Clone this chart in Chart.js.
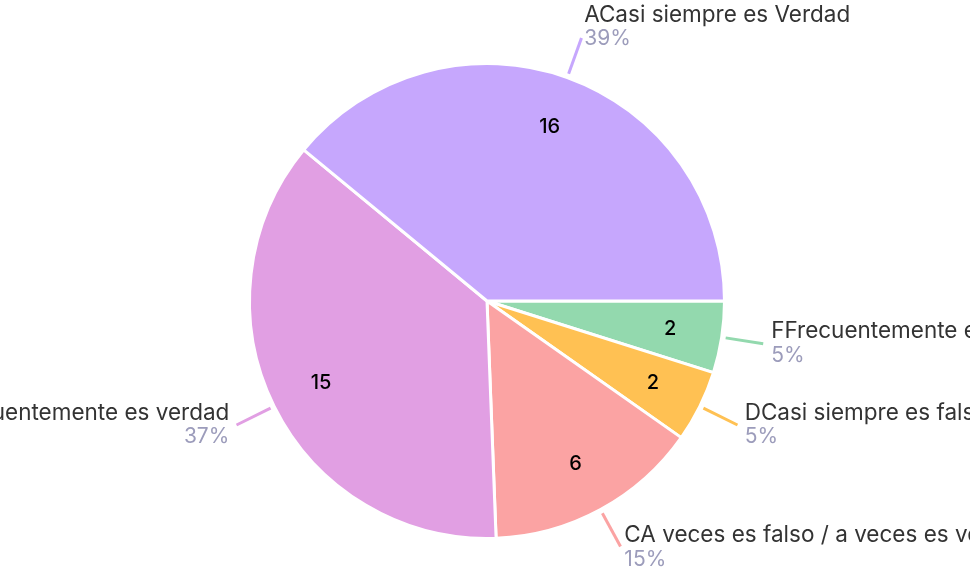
<!DOCTYPE html>
<html>
<head>
<meta charset="utf-8">
<script src="https://cdn.jsdelivr.net/npm/chart.js@4/dist/chart.umd.min.js"></script>
<style>
  html, body { margin: 0; padding: 0; background: #fff; }
  #wrap { width: 970px; height: 577px; }
</style>
</head>
<body>
<div id="wrap"><canvas id="respuestasChart"></canvas></div>
<script>
// Respuestas, en el orden en que se dibujan (desde las 3 en punto, sentido horario)
var etiquetas = [
    'FFrecuentemente es falso',
    'DCasi siempre es falso',
    'CA veces es falso / a veces es verdad',
    'BFrecuentemente es verdad',
    'ACasi siempre es Verdad'
];
var cantidades = [2, 2, 6, 15, 16];
var colores = ['#93d9ae', '#ffc153', '#fba3a3', '#e19fe3', '#c6a7fd'];

var fuente = 'Inter, "Open Sans", sans-serif';

// Líneas guía, nombres y porcentajes alrededor del pastel, y cantidades dentro
var etiquetasPastel = {
    id: 'etiquetasPastel',
    afterDatasetsDraw: function (chart) {
        var ctx = chart.ctx;
        var meta = chart.getDatasetMeta(0);
        var datos = chart.data.datasets[0].data;
        var total = datos.reduce(function (a, b) { return a + b; }, 0);

        meta.data.forEach(function (arco, i) {
            var p = arco.getProps(['x', 'y', 'startAngle', 'endAngle', 'outerRadius'], true);
            var medio = (p.startAngle + p.endAngle) / 2;
            var cos = Math.cos(medio), sin = Math.sin(medio);
            var r = p.outerRadius;

            // cantidad dentro de la porción
            ctx.save();
            ctx.fillStyle = '#000';
            ctx.font = '500 20px ' + fuente;
            ctx.textAlign = 'center';
            ctx.textBaseline = 'middle';
            ctx.fillText(String(datos[i]), p.x + cos * r * 0.78, p.y + sin * r * 0.78);

            // línea guía
            var x1 = p.x + cos * (r + 4), y1 = p.y + sin * (r + 4);
            var x2 = p.x + cos * (r + 42), y2 = p.y + sin * (r + 42);
            ctx.strokeStyle = colores[i];
            ctx.lineWidth = 3;
            ctx.beginPath();
            ctx.moveTo(x1, y1);
            ctx.lineTo(x2, y2);
            ctx.stroke();

            // nombre y porcentaje
            var derecha = cos >= 0;
            var tx = x2 + (derecha ? 1 : -1) * (8 * Math.abs(cos));
            var cy = y2 + 13 * Math.min(0, sin) + 3 * Math.max(0, sin * sin - 0.5) - 2;
            ctx.textAlign = derecha ? 'left' : 'right';
            ctx.textBaseline = 'middle';
            ctx.font = '22.5px ' + fuente;
            ctx.fillStyle = '#333333';
            ctx.fillText(chart.data.labels[i], tx, cy - 10);
            ctx.font = '21px ' + fuente;
            ctx.fillStyle = '#9c9cbb';
            ctx.fillText(Math.round(datos[i] / total * 100) + '%', tx, cy + 14);
            ctx.restore();
        });
    }
};

var respuestasChart = new Chart(document.getElementById('respuestasChart'), {
    type: 'pie',
    data: {
        labels: etiquetas,
        datasets: [{
            data: cantidades,
            backgroundColor: colores,
            borderColor: '#ffffff',
            borderWidth: 3
        }]
    },
    options: {
        responsive: true,
        maintainAspectRatio: false,
        animation: false,
        rotation: 90,
        layout: {
            padding: { top: 62, bottom: 37, left: 4, right: 0 }
        },
        plugins: {
            legend: { display: false },
            tooltip: { enabled: false }
        }
    },
    plugins: [etiquetasPastel]
});
</script>
</body>
</html>
